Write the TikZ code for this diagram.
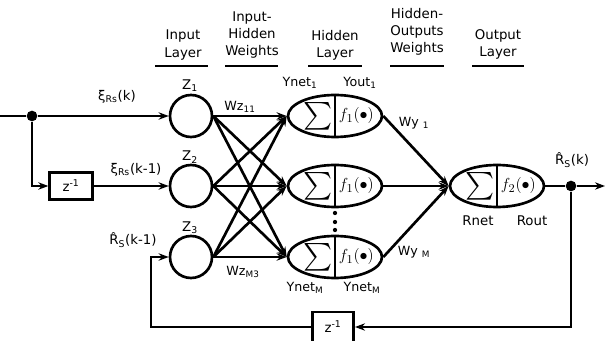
\documentclass[tikz,border=0pt]{standalone}
\usepackage{amsmath}
\usepackage{fontspec}
\setmainfont{DejaVu Sans}
\usetikzlibrary{arrows.meta, positioning, shapes.geometric}

\begin{document}
\begin{tikzpicture}[x=0.75pt, y=-0.75pt,
  wire/.style={line width=2pt},
  arr/.style={wire, -{Stealth[length=7.5pt, width=5.5pt]}},
  neuron/.style={draw, line width=2pt, circle, minimum size=31.5pt, inner sep=0pt},
  cell/.style={draw, line width=2pt, ellipse, minimum width=70.5pt, minimum height=31.5pt, inner sep=0pt},
  delay/.style={draw, line width=2pt, minimum width=32pt, minimum height=20pt, inner sep=0pt, font=\fontsize{10}{12}\selectfont},
  head/.style={align=center, font=\fontsize{10}{12.8}\selectfont},
  lbl/.style={inner sep=1pt, font=\fontsize{10}{12}\selectfont},
  slbl/.style={inner sep=1pt, font=\fontsize{9.5}{10}\selectfont},
  bar/.style={line width=2.2pt},
  dot/.style={circle, fill, inner sep=0pt, minimum size=8pt}
]
  \useasboundingbox (0,0) rectangle (605,341);

  % Layer headers
  \node[head] (hin)  at (183,45) {Input\\Layer};
  \node[head] (hih)  at (252,35) {Input-\\Hidden\\Weights};
  \node[head] (hhid) at (335,45) {Hidden\\Layer};
  \node[head] (hho)  at (417,32) {Hidden-\\Outputs\\Weights};
  \node[head] (hout) at (498,44) {Output\\Layer};
  \draw[bar] (155,66) -- (208,66) (225,66) -- (278,66) (308,66) -- (362,66)
             (390,66) -- (444,66) (472,66) -- (524,66);

  % Neurons
  \node[neuron] (z1) at (191,116) {};
  \node[neuron] (z2) at (191,186) {};
  \node[neuron] (z3) at (191,257) {};
  \node[cell] (h1)  at (335,116) {};
  \node[cell] (h2)  at (335,186) {};
  \node[cell] (hm)  at (335,257) {};
  \node[cell] (out) at (497,186) {};
  \foreach \c/\k in {h1/1, h2/1, hm/1, out/2} {
    \draw[wire] (\c.north) -- (\c.south);
    \node[inner sep=0pt, font=\fontsize{22}{22}\selectfont] at ([xshift=-13pt]\c.center) {$\textstyle\sum$};
    \node[inner sep=0pt, font=\fontsize{13}{13}\selectfont] at ([xshift=16pt]\c.center) {$f_{\k}(\bullet)$};
  }
  \foreach \y in {213,222,230}
    \fill (335,\y) circle (1.6pt);

  % Inputs and delays
  \coordinate (in) at (0,116);
  \node[dot] (s1) at (32,116) {};
  \node[delay] (d1) at (71,186) {z\textsuperscript{-1}};
  \draw[wire] (in) -- (s1);
  \draw[arr] (s1) -- (z1);
  \draw[arr] (s1) |- (d1);
  \draw[arr] (d1) -- (z2);

  % Weights
  \foreach \i in {z1,z2,z3}
    \foreach \j in {h1,h2,hm}
      \draw[arr] (\i.east) -- (\j.west);
  \foreach \j in {h1,h2,hm}
    \draw[arr] (\j.east) -- (out.west);

  % Output and feedback
  \node[dot] (s2) at (571,186) {};
  \coordinate (end) at (605,186);
  \node[delay, minimum height=22.5pt, minimum width=31pt] (d2) at (333,327) {z\textsuperscript{-1}};
  \coordinate (fb) at (151,257);
  \draw[wire] (out) -- (s2);
  \draw[arr] (s2) -- (end);
  \draw[arr] (s2) |- (d2);
  \draw[arr] (d2) -| (fb) -- (z3);

  % Labels
  \node[lbl] (lz1) at (190,86)  {Z\textsubscript{1}};
  \node[lbl] (lz2) at (190,157) {Z\textsubscript{2}};
  \node[lbl] (lz3) at (190,228) {Z\textsubscript{3}};
  \node[lbl] (lx1) at (117,97)  {ξ\textsubscript{Rs}(k)};
  \node[lbl] (lx2) at (136,170) {ξ\textsubscript{Rs}(k-1)};
  \node[lbl] (lr1) at (133,240) {\^R\textsubscript{S}(k-1)};
  \node[slbl] (lw1) at (240,107) {Wz\textsubscript{11}};
  \node[slbl] (lw2) at (243,272) {Wz\textsubscript{M3}};
  \node[slbl] (ly1) at (300,83)  {Ynet\textsubscript{1}};
  \node[slbl] (ly2) at (360,83)  {Yout\textsubscript{1}};
  \node[slbl] (ly3) at (305,288) {Ynet\textsubscript{M}};
  \node[slbl] (ly4) at (362,288) {Ynet\textsubscript{M}};
  \node[slbl] (lv1) at (414,123) {Wy \textsubscript{1}};
  \node[slbl] (lv2) at (414,252) {Wy \textsubscript{M}};
  \node[lbl] (lrn) at (478,221) {Rnet};
  \node[lbl] (lro) at (532,221) {Rout};
  \node[lbl] (lr2) at (572,160) {\^R\textsubscript{S}(k)};
\end{tikzpicture}
\end{document}
